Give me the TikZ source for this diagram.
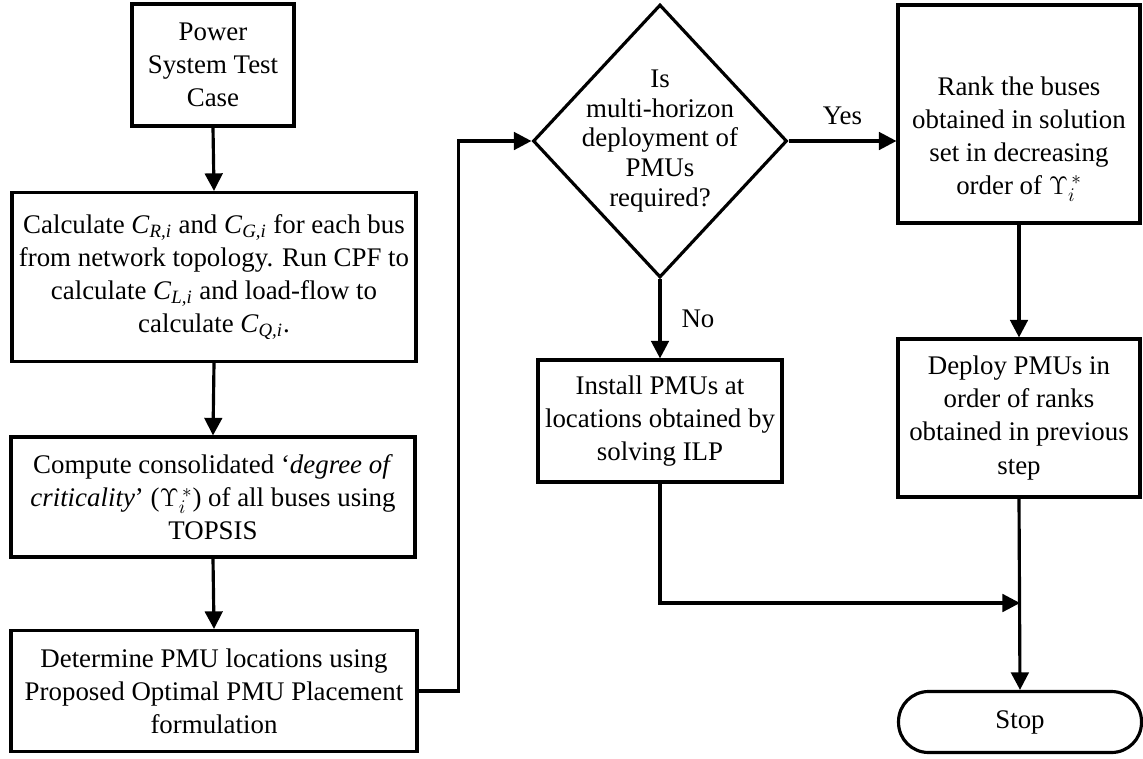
\documentclass[tikz,border=0pt]{standalone}
\usepackage{fontspec}
\setmainfont{Liberation Serif}
\usepackage{amsmath}
\usepackage{tikz}
\usetikzlibrary{shapes,arrows.meta,positioning,calc}
\newcommand{\Cidx}[1]{\textit{C}\textsubscript{\textit{#1,i}}}

\begin{document}
\begin{tikzpicture}[x=0.02cm,y=-0.02cm,
		font=\fontsize{15.3pt}{18.8pt}\selectfont,
		block/.style={draw,line width=1.8pt,align=center,inner sep=0pt},
		decision/.style={draw,diamond,line width=1.8pt,inner sep=0pt,minimum width=5.08cm,minimum height=5.46cm},
		terminal/.style={draw,line width=1.8pt,rounded corners=0.6cm,minimum width=4.86cm,minimum height=1.22cm},
		arr/.style={-{Triangle[length=10pt,width=10pt]},line width=1.8pt}]
		\useasboundingbox (0,0) rectangle (1143,758);
		
		% left column
		\node[block,minimum width=3.24cm,minimum height=2.44cm] (pow) at(213,65){Power\\System Test\\Case};
		\node[block,minimum width=8.08cm,minimum height=3.38cm] (calc) at(214,277){Calculate \Cidx{R} and \Cidx{G} for each bus\\from network topology. Run CPF to\\calculate \Cidx{L} and load-flow to\\calculate \Cidx{Q}.};
		\node[block,minimum width=8.08cm,minimum height=2.40cm] (comp) at(213,497){Compute consolidated `\textit{degree of}\\\textit{criticality}' ($\Upsilon_i^{\,*}$) of all buses using\\TOPSIS};
		\node[block,minimum width=8.12cm,minimum height=2.42cm] (det) at(214,691){Determine PMU locations using\\Proposed Optimal PMU Placement\\formulation};
		
		% decision
		\node[decision,label={[align=center,font=\fontsize{15.3pt}{17pt}\selectfont]center:Is\\multi-horizon\\deployment of\\PMUs\\required?}] (q) at(660,141){};
		\node[block,minimum width=4.88cm,minimum height=2.44cm] (inst) at(660,421){Install PMUs at\\locations obtained by\\solving ILP};
		
		% right column
		\node[block,minimum width=4.84cm,minimum height=4.36cm,label={[align=center,yshift=-0.5cm]center:Rank the buses\\obtained in solution\\set in decreasing\\order of $\Upsilon_i^{\,*}$}] (rank) at(1019,114){};
		\node[block,minimum width=4.84cm,minimum height=3.16cm] (dep) at(1019,418){Deploy PMUs in\\order of ranks\\obtained in previous\\step};
		\node[terminal] (stop) at(1020,722){Stop};
		\coordinate (join) at(1020,603);
		
		\draw[arr] (pow.south) -- (calc.north);
		\draw[arr] (calc.south) -- (comp.north);
		\draw[arr] (comp.south) -- (det.north);
		\draw[arr] (det.east) -- ++(40,0) |- (q.west);
		\draw[arr] (q.east) -- node[above=5pt] (yes) {Yes} (q.east -| rank.west);
		\draw[arr] (q.south) -- node[right=8pt] (no) {No} (inst.north);
		\draw[arr] (rank.south) -- (dep.north);
		\draw[arr] (dep.south) -- (stop.north);
		\draw[arr] (inst.south) |- (join);
		
\end{tikzpicture}
\end{document}
